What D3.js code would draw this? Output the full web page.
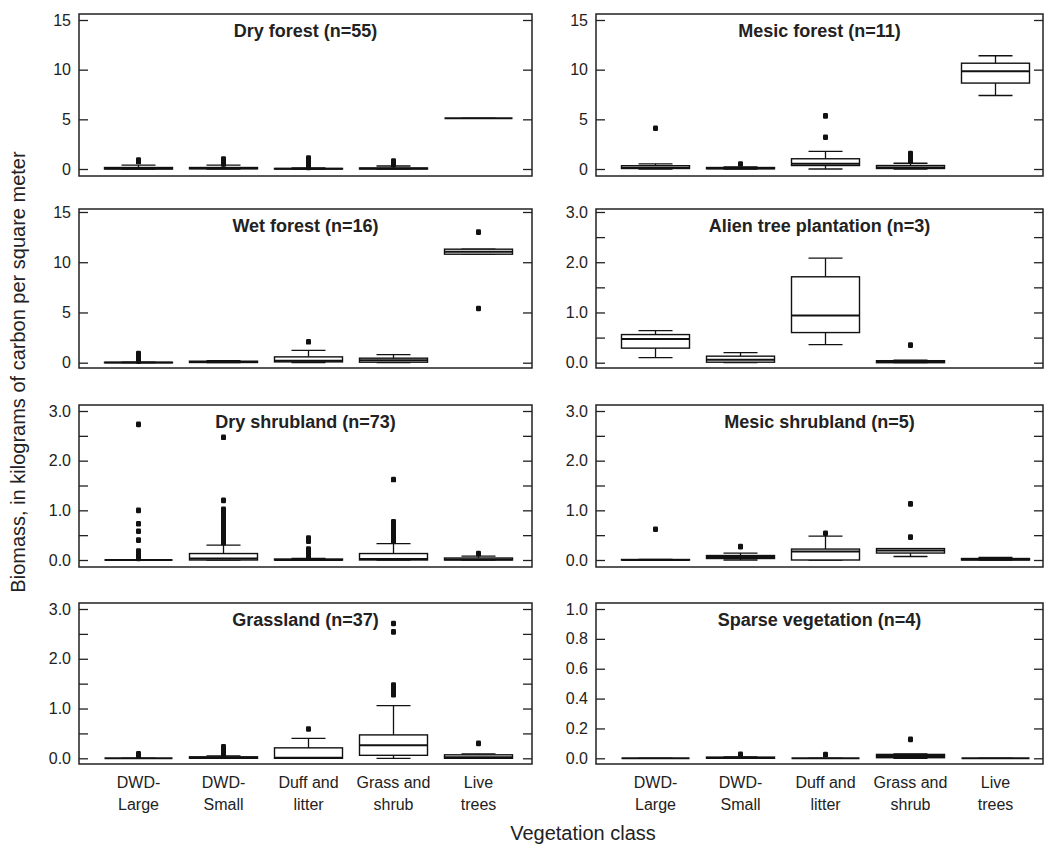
<!DOCTYPE html>
<html>
<head>
<meta charset="utf-8">
<script src="https://cdn.jsdelivr.net/npm/d3@7"></script>
<style>
    body { margin: 0; background: #fff; }
    svg { display: block; }
    text { font-family: "Liberation Sans", Arial, sans-serif; fill: #222; }
    .tick text { font-size: 16px; }
    .tick line { stroke: #222; stroke-width: 1.3; }
    .frame { fill: none; stroke: #222; stroke-width: 1.5; }
    .title { font-size: 18px; font-weight: bold; }
    .xlabel { font-size: 16px; }
    .axisTitle { font-size: 20px; }
    .box { fill: #fff; stroke: #111; stroke-width: 1.4; }
    .median { stroke: #111; stroke-width: 2; }
    .whisker { stroke: #111; stroke-width: 1.3; }
</style>
</head>
<body>
<svg></svg>
<script>
// vegetation class (x categories)
let categories = ['DWD-Large', 'DWD-Small', 'Duff and litter', 'Grass and shrub', 'Live trees'];
let categoryLines = [['DWD-', 'Large'], ['DWD-', 'Small'], ['Duff and', 'litter'], ['Grass and', 'shrub'], ['Live', 'trees']];

// each entry: [lower whisker, q1, median, q3, upper whisker, outliers]
let dryForest = [
    [0, 0, 0.05, 0.15, 0.4, [0.75, 0.9]],
    [0, 0.02, 0.08, 0.15, 0.4, [0.5, 0.6, 0.7, 0.8, 0.9, 1.0]],
    [0, 0, 0.02, 0.05, 0.1, [0.15, 0.3, 0.5, 0.7, 0.9, 1.1]],
    [0, 0, 0.05, 0.1, 0.3, [0.45, 0.6, 0.8]],
    [5.1, 5.1, 5.1, 5.1, 5.1, []]
];
let mesicForest = [
    [0, 0.05, 0.12, 0.33, 0.52, [4.1]],
    [0, 0.02, 0.08, 0.15, 0.2, [0.5]],
    [0, 0.35, 0.52, 1.03, 1.78, [3.2, 5.35]],
    [0, 0.05, 0.15, 0.35, 0.58, [0.8, 1.05, 1.3, 1.55]],
    [7.4, 8.65, 9.85, 10.65, 11.4, []]
];
let wetForest = [
    [0, 0, 0.01, 0.03, 0.05, [0.15, 0.3, 0.5, 0.7, 0.9]],
    [0, 0.02, 0.08, 0.15, 0.2, []],
    [0, 0.08, 0.2, 0.58, 1.22, [2.08]],
    [0, 0.05, 0.25, 0.45, 0.8, []],
    [10.8, 10.8, 11.05, 11.3, 11.3, [5.4, 13.0]]
];
let alienPlantation = [
    [0.1, 0.29, 0.47, 0.56, 0.64, []],
    [0, 0.01, 0.06, 0.13, 0.2, []],
    [0.36, 0.6, 0.94, 1.71, 2.08, []],
    [0, 0, 0.02, 0.04, 0.05, [0.35]],
    null
];
let dryShrubland = [
    [0, 0, 0, 0, 0, [0.03, 0.06, 0.1, 0.14, 0.18, 0.4, 0.58, 0.73, 1.0, 2.73]],
    [0, 0, 0.03, 0.13, 0.3, [0.35, 0.42, 0.48, 0.54, 0.6, 0.66, 0.72, 0.78, 0.84, 0.9, 0.96, 1.02, 1.2, 2.47]],
    [0, 0, 0, 0.02, 0.03, [0.06, 0.1, 0.14, 0.18, 0.22, 0.38, 0.44]],
    [0, 0, 0.02, 0.13, 0.33, [0.38, 0.43, 0.48, 0.53, 0.58, 0.65, 0.72, 0.77, 1.62]],
    [0, 0, 0.01, 0.04, 0.08, [0.13]]
];
let mesicShrubland = [
    [0, 0, 0, 0.01, 0.01, [0.62]],
    [0, 0.03, 0.06, 0.09, 0.14, [0.27]],
    [0, 0, 0.17, 0.22, 0.48, [0.54]],
    [0.07, 0.14, 0.19, 0.23, 0.23, [0.46, 1.13]],
    [0, 0, 0.01, 0.03, 0.05, []]
];
let grassland = [
    [0, 0, 0, 0, 0, [0.05, 0.09]],
    [0, 0, 0.01, 0.03, 0.05, [0.08, 0.12, 0.16, 0.2, 0.23]],
    [0, 0, 0.01, 0.21, 0.4, [0.59]],
    [0, 0.06, 0.26, 0.47, 1.06, [1.28, 1.33, 1.38, 1.43, 1.47, 2.54, 2.71]],
    [0, 0, 0.02, 0.07, 0.09, [0.3]]
];
let sparseVegetation = [
    [0, 0, 0, 0, 0, []],
    [0, 0, 0.002, 0.008, 0.01, [0.027]],
    [0, 0, 0, 0, 0, [0.025]],
    [0, 0.004, 0.015, 0.026, 0.03, [0.127]],
    [0, 0, 0, 0, 0, []]
];

// y tick sets
let ticks15 = [0, 5, 10, 15];
let ticks3 = [0, 0.5, 1, 1.5, 2, 2.5, 3];
let ticks1 = [0, 0.2, 0.4, 0.6, 0.8, 1.0];

let panels = [
    {title: 'Dry forest (n=55)', data: dryForest, ticks: ticks15, fmt: d => d},
    {title: 'Mesic forest (n=11)', data: mesicForest, ticks: ticks15, fmt: d => d},
    {title: 'Wet forest (n=16)', data: wetForest, ticks: ticks15, fmt: d => d},
    {title: 'Alien tree plantation (n=3)', data: alienPlantation, ticks: ticks3, fmt: d => Number.isInteger(d) ? d.toFixed(1) : ''},
    {title: 'Dry shrubland (n=73)', data: dryShrubland, ticks: ticks3, fmt: d => Number.isInteger(d) ? d.toFixed(1) : ''},
    {title: 'Mesic shrubland (n=5)', data: mesicShrubland, ticks: ticks3, fmt: d => Number.isInteger(d) ? d.toFixed(1) : ''},
    {title: 'Grassland (n=37)', data: grassland, ticks: ticks3, fmt: d => Number.isInteger(d) ? d.toFixed(1) : ''},
    {title: 'Sparse vegetation (n=4)', data: sparseVegetation, ticks: ticks1, fmt: d => d.toFixed(1)}
];

let width = 1045, height = 849;
let svg = d3.select('svg').attr('width', width).attr('height', height);

// layout
let colLeft = [79, 596], colRight = [532, 1043];
let rowTop = [14, 209, 405, 603], rowBottom = [176, 368, 567, 764];
let rowZeroY = [169, 362.7, 560, 758.3], rowMaxY = [20, 212, 411, 609];

panels.forEach((p, i) => {
    let col = i % 2, row = Math.floor(i / 2);
    let x0 = colLeft[col], x1 = colRight[col];
    let top = rowTop[row], bottom = rowBottom[row];

    let x = d3.scaleBand()
        .domain(categories)
        .range([x0 + 17, x0 + 17 + 425]);
    let y = d3.scaleLinear()
        .domain([0, d3.max(p.ticks)])
        .range([rowZeroY[row], rowMaxY[row]]);

    let g = svg.append('g');

    g.append('g')
        .attr('transform', 'translate(' + x0 + ',0)')
        .call(d3.axisLeft(y).tickValues(p.ticks).tickFormat(p.fmt).tickSize(-9).tickPadding(8))
        .call(a => a.select('.domain').remove())
        .call(a => a.selectAll('text').attr('fill', '#222'));
    g.append('g')
        .attr('transform', 'translate(' + x1 + ',0)')
        .call(d3.axisRight(y).tickValues(p.ticks).tickFormat('').tickSize(-9))
        .call(a => a.select('.domain').remove());

    g.append('rect')
        .attr('class', 'frame')
        .attr('x', x0).attr('y', top)
        .attr('width', x1 - x0).attr('height', bottom - top);

    g.append('text')
        .attr('class', 'title')
        .attr('x', (x0 + x1) / 2)
        .attr('y', top + 23)
        .attr('text-anchor', 'middle')
        .text(p.title);

    let bw = x.bandwidth() * 0.8;
    let boxes = categories.map((c, j) => ({cat: c, s: p.data[j]})).filter(d => d.s);
    let bg = g.selectAll('g.boxplot')
        .data(boxes)
        .enter()
        .append('g')
        .attr('class', 'boxplot')
        .attr('transform', d => 'translate(' + (x(d.cat) + x.bandwidth() / 2) + ',0)');

    // whiskers
    bg.append('line').attr('class', 'whisker')
        .attr('x1', 0).attr('x2', 0)
        .attr('y1', d => y(d.s[3])).attr('y2', d => y(d.s[4]));
    bg.append('line').attr('class', 'whisker')
        .attr('x1', 0).attr('x2', 0)
        .attr('y1', d => y(d.s[1])).attr('y2', d => y(d.s[0]));
    bg.append('line').attr('class', 'whisker')
        .attr('x1', -bw / 4).attr('x2', bw / 4)
        .attr('y1', d => y(d.s[4])).attr('y2', d => y(d.s[4]));
    bg.append('line').attr('class', 'whisker')
        .attr('x1', -bw / 4).attr('x2', bw / 4)
        .attr('y1', d => y(d.s[0])).attr('y2', d => y(d.s[0]));

    bg.append('rect').attr('class', 'box')
        .attr('x', -bw / 2).attr('width', bw)
        .attr('y', d => y(d.s[3]))
        .attr('height', d => y(d.s[1]) - y(d.s[3]));
    bg.append('line').attr('class', 'median')
        .attr('x1', -bw / 2).attr('x2', bw / 2)
        .attr('y1', d => y(d.s[2])).attr('y2', d => y(d.s[2]));

    // outliers, small rounded squares
    bg.selectAll('rect.outlier')
        .data(d => d.s[5])
        .enter()
        .append('rect')
        .attr('class', 'outlier')
        .attr('x', -2.5)
        .attr('y', v => y(v) - 2.8)
        .attr('width', 5)
        .attr('height', 5.6)
        .attr('rx', 1.2)
        .attr('fill', '#111');

    // category labels under the bottom row
    if (row === 3) {
        let lab = g.selectAll('text.xlabel')
            .data(categories)
            .enter()
            .append('text')
            .attr('class', 'xlabel')
            .attr('text-anchor', 'middle')
            .attr('x', c => x(c) + x.bandwidth() / 2)
            .attr('y', 788);
        lab.append('tspan').text((c, j) => categoryLines[j][0]);
        lab.append('tspan')
            .attr('x', c => x(c) + x.bandwidth() / 2)
            .attr('dy', 22)
            .text((c, j) => categoryLines[j][1]);
    }
});

svg.append('text')
    .attr('class', 'axisTitle')
    .attr('x', 583).attr('y', 840)
    .attr('text-anchor', 'middle')
    .text('Vegetation class');

svg.append('text')
    .attr('class', 'axisTitle')
    .attr('transform', 'translate(25,372) rotate(-90)')
    .attr('text-anchor', 'middle')
    .text('Biomass, in kilograms of carbon per square meter');
</script>
</body>
</html>
